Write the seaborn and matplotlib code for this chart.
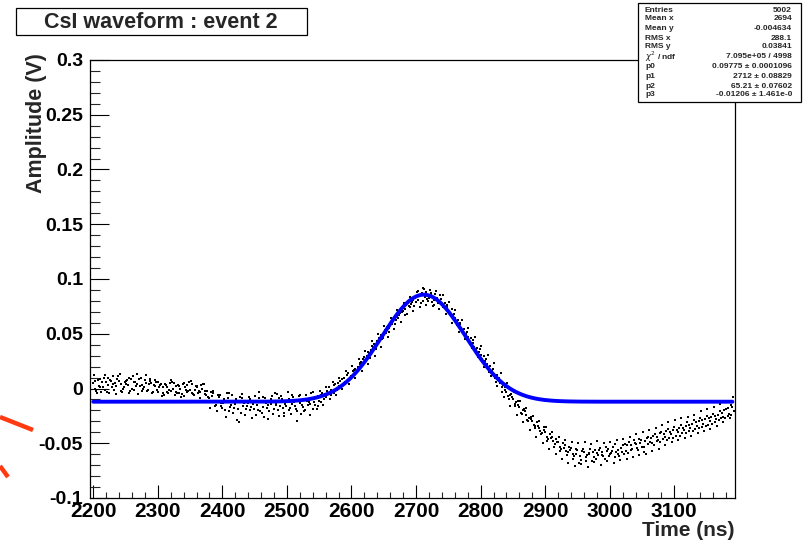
import numpy as np
import pandas as pd
import matplotlib
matplotlib.use("Agg")
import matplotlib.pyplot as plt
from matplotlib.lines import Line2D
from matplotlib.patches import Rectangle
from matplotlib.ticker import MultipleLocator
import seaborn as sns

# ---------------- data ----------------
# samples every 5 ns starting at 2200 ns
amp_a = [
    0.005, -0.002, 0.009, 0.001, 0.006, -0.004, 0.011, 0.002, 0.007, -0.003,
    0.004, 0.010, 0.000, 0.006, -0.005, 0.003, 0.008, -0.001, 0.005, 0.002,
    -0.003, 0.004, -0.006, 0.001, -0.002, 0.005, -0.004, 0.000, -0.007, 0.003,
    -0.001, -0.005, 0.002, -0.003, 0.004, -0.006, -0.009, -0.004, -0.015, -0.008,
    -0.018, -0.011, -0.021, -0.006, -0.014, -0.019, -0.009, -0.024, -0.013, -0.017,
    -0.007, -0.020, -0.012, -0.026, -0.015, -0.010, -0.019, -0.005, -0.016, -0.022,
    -0.011, -0.018, -0.008, -0.021, -0.013, -0.017, -0.006, -0.014, -0.019, -0.009,
    -0.011, -0.004, -0.008, 0.001, -0.003, 0.004, 0.002, 0.009, 0.006, 0.014,
    0.011, 0.018, 0.020, 0.024, 0.029, 0.033, 0.035, 0.041, 0.043, 0.049,
    0.050, 0.056, 0.058, 0.062, 0.066, 0.069, 0.071, 0.076, 0.074, 0.081,
    0.079, 0.085, 0.080, 0.088, 0.083, 0.079, 0.086, 0.080, 0.077, 0.078,
    0.071, 0.073, 0.064, 0.063, 0.055, 0.054, 0.047, 0.046, 0.038, 0.037,
    0.031, 0.030, 0.022, 0.021, 0.013, 0.012, 0.005, 0.003, -0.003, -0.006,
    -0.010, -0.012, -0.017, -0.020, -0.024, -0.027, -0.030, -0.034, -0.036, -0.041,
    -0.040, -0.046, -0.044, -0.051, -0.049, -0.055, -0.052, -0.058, -0.054, -0.062,
    -0.056, -0.065, -0.058, -0.061, -0.055, -0.063, -0.059, -0.054, -0.062, -0.057,
    -0.060, -0.053, -0.058, -0.062, -0.052, -0.057, -0.049, -0.055, -0.051, -0.046,
    -0.053, -0.048, -0.044, -0.050, -0.042, -0.047, -0.040, -0.044, -0.037, -0.042,
    -0.035, -0.040, -0.033, -0.038, -0.031, -0.036, -0.029, -0.034, -0.027, -0.032,
    -0.025, -0.030, -0.023, -0.028, -0.021, -0.026, -0.019, -0.023, -0.017,
]
# samples every 5 ns starting at 2202.5 ns
amp_b = [
    0.000, 0.008, -0.003, 0.012, 0.003, 0.007, -0.001, 0.009, 0.004, 0.001,
    0.008, -0.002, 0.006, 0.013, 0.002, 0.000, 0.005, 0.009, -0.003, 0.006,
    0.001, -0.004, 0.003, -0.001, 0.006, -0.003, 0.002, -0.005, 0.001, -0.002,
    0.004, -0.001, -0.004, 0.003, -0.002, -0.008, -0.003, -0.012, -0.006, -0.016,
    -0.010, -0.004, -0.017, -0.012, -0.029, -0.008, -0.016, -0.011, -0.020, -0.014,
    -0.024, -0.009, -0.017, -0.013, -0.021, -0.007, -0.015, -0.025, -0.010, -0.014,
    -0.020, -0.006, -0.016, -0.011, -0.023, -0.010, -0.015, -0.004, -0.012, -0.016,
    -0.006, -0.010, -0.002, -0.006, 0.003, -0.001, 0.007, 0.004, 0.012, 0.009,
    0.016, 0.014, 0.022, 0.027, 0.026, 0.032, 0.039, 0.038, 0.046, 0.045,
    0.053, 0.052, 0.060, 0.059, 0.064, 0.072, 0.067, 0.078, 0.077, 0.075,
    0.089, 0.078, 0.091, 0.082, 0.087, 0.076, 0.083, 0.085, 0.074, 0.076,
    0.069, 0.067, 0.061, 0.059, 0.052, 0.050, 0.043, 0.042, 0.035, 0.033,
    0.027, 0.025, 0.018, 0.016, 0.010, 0.008, 0.001, -0.001, -0.007, -0.005,
    -0.014, -0.011, -0.022, -0.019, -0.029, -0.026, -0.033, -0.031, -0.039, -0.035,
    -0.044, -0.042, -0.048, -0.046, -0.053, -0.050, -0.057, -0.053, -0.060, -0.055,
    -0.068, -0.057, -0.063, -0.059, -0.066, -0.056, -0.061, -0.058, -0.064, -0.055,
    -0.059, -0.063, -0.056, -0.054, -0.060, -0.052, -0.056, -0.047, -0.054, -0.050,
    -0.058, -0.045, -0.049, -0.043, -0.048, -0.041, -0.046, -0.039, -0.045, -0.038,
    -0.043, -0.036, -0.041, -0.034, -0.039, -0.032, -0.037, -0.030, -0.035, -0.028,
    -0.033, -0.026, -0.031, -0.024, -0.027, -0.020, -0.025, -0.015, -0.021,
]
# samples every 5 ns starting at 2201 ns
amp_c = [
    0.012, -0.004, 0.001, 0.010, -0.003, 0.008, 0.004, -0.005, 0.013, 0.000,
    0.007, -0.004, 0.011, 0.002, 0.009, -0.002, 0.012, 0.004, -0.004, 0.008,
    0.006, -0.007, 0.004, -0.004, 0.008, -0.006, 0.003, -0.008, 0.005, -0.003,
    0.007, -0.006, 0.001, -0.009, 0.004, -0.002, -0.018, -0.002, -0.021, -0.006,
    -0.013, -0.026, -0.004, -0.022, -0.010, -0.031, -0.005, -0.019, -0.008, -0.027,
    -0.012, -0.003, -0.022, -0.009, -0.028, -0.014, -0.004, -0.020, -0.007, -0.025,
    -0.003, -0.023, -0.012, -0.030, -0.006, -0.021, -0.011, -0.024, -0.003, -0.019,
    -0.002, -0.015, 0.001, -0.010, 0.006, -0.006, 0.010, 0.000, 0.016, 0.004,
    0.021, 0.010, 0.027, 0.016, 0.034, 0.022, 0.043, 0.030, 0.050, 0.038,
    0.057, 0.047, 0.064, 0.054, 0.072, 0.061, 0.078, 0.068, 0.084, 0.071,
    0.088, 0.074, 0.092, 0.076, 0.090, 0.075, 0.089, 0.073, 0.085, 0.068,
    0.079, 0.060, 0.072, 0.052, 0.063, 0.045, 0.055, 0.037, 0.047, 0.029,
    0.039, 0.020, 0.031, 0.011, 0.023, 0.002, 0.014, -0.008, 0.005, -0.016,
    -0.003, -0.024, -0.011, -0.031, -0.018, -0.038, -0.025, -0.044, -0.030, -0.050,
    -0.035, -0.055, -0.040, -0.060, -0.044, -0.064, -0.047, -0.068, -0.049, -0.071,
    -0.050, -0.069, -0.049, -0.072, -0.051, -0.067, -0.048, -0.070, -0.050, -0.066,
    -0.049, -0.068, -0.047, -0.065, -0.046, -0.064, -0.044, -0.063, -0.042, -0.061,
    -0.040, -0.060, -0.038, -0.057, -0.036, -0.055, -0.033, -0.052, -0.031, -0.049,
    -0.029, -0.047, -0.027, -0.045, -0.026, -0.043, -0.024, -0.041, -0.021, -0.039,
    -0.019, -0.037, -0.017, -0.034, -0.014, -0.031, -0.011, -0.027, -0.008,
]
# samples every 5 ns starting at 2203.5 ns
amp_d = [
    0.007, 0.002, 0.006, -0.001, 0.010, 0.001, 0.005, 0.011, -0.002, 0.006,
    0.003, 0.009, -0.001, 0.004, 0.010, 0.001, -0.002, 0.007, 0.003, -0.001,
    0.003, 0.001, -0.003, 0.005, 0.000, 0.002, -0.004, 0.004, -0.001, 0.006,
    -0.004, 0.002, -0.002, 0.000, -0.005, -0.011, -0.007, -0.016, -0.011, -0.013,
    -0.020, -0.009, -0.015, -0.018, -0.011, -0.022, -0.013, -0.016, -0.010, -0.019,
    -0.015, -0.021, -0.008, -0.018, -0.012, -0.023, -0.013, -0.009, -0.018, -0.016,
    -0.010, -0.014, -0.019, -0.007, -0.015, -0.020, -0.012, -0.009, -0.015, -0.007,
    -0.012, -0.005, -0.004, -0.001, -0.004, 0.005, 0.001, 0.010, 0.007, 0.011,
    0.017, 0.016, 0.023, 0.022, 0.030, 0.028, 0.037, 0.036, 0.044, 0.046,
    0.051, 0.055, 0.059, 0.063, 0.067, 0.070, 0.073, 0.075, 0.079, 0.083,
    0.081, 0.087, 0.084, 0.080, 0.086, 0.081, 0.078, 0.082, 0.075, 0.074,
    0.066, 0.068, 0.058, 0.060, 0.050, 0.052, 0.041, 0.044, 0.033, 0.036,
    0.024, 0.027, 0.015, 0.018, 0.006, 0.010, -0.003, 0.001, -0.010, -0.008,
    -0.016, -0.015, -0.023, -0.021, -0.030, -0.028, -0.036, -0.034, -0.042, -0.038,
    -0.048, -0.045, -0.053, -0.049, -0.057, -0.054, -0.061, -0.056, -0.064, -0.060,
    -0.062, -0.055, -0.066, -0.060, -0.058, -0.064, -0.056, -0.061, -0.053, -0.062,
    -0.057, -0.051, -0.060, -0.058, -0.051, -0.059, -0.052, -0.050, -0.056, -0.047,
    -0.053, -0.051, -0.045, -0.052, -0.044, -0.049, -0.042, -0.047, -0.040, -0.045,
    -0.038, -0.043, -0.036, -0.041, -0.033, -0.039, -0.031, -0.036, -0.029, -0.034,
    -0.027, -0.032, -0.025, -0.029, -0.022, -0.027, -0.018, -0.024,
]
time_a = 2200.0 + 5.0 * np.arange(len(amp_a))
time_b = 2202.5 + 5.0 * np.arange(len(amp_b))
time_c = 2201.0 + 5.0 * np.arange(len(amp_c))
time_d = 2203.5 + 5.0 * np.arange(len(amp_d))

# Gaussian + constant fit parameters from the stats box
fit_p0 = 0.09775
fit_p1 = 2712.0
fit_p2 = 65.21
fit_p3 = -0.01206
fit_range = (2200, 3190)

x_ticks = [2200, 2300, 2400, 2500, 2600, 2700, 2800, 2900, 3000, 3100]
x_tick_labels = ["2200", "2300", "2400", "2500", "2600", "2700", "2800", "2900", "3000", "3100"]
y_ticks = [-0.1, -0.05, 0.0, 0.05, 0.1, 0.15, 0.2, 0.25, 0.3]
y_tick_labels = ["-0.1", "-0.05", "0", "0.05", "0.1", "0.15", "0.2", "0.25", "0.3"]

stats_labels = ["Entries", "Mean x", "Mean y", "RMS x", "RMS y",
                r"$\chi^{2}$ / ndf", "p0", "p1", "p2", "p3"]
stats_values = ["5002", "2694", "-0.004634", "288.1", "0.03841",
                "7.095e+05 / 4998", "0.09775 \u00b1 0.0001096", "2712 \u00b1 0.08829",
                "65.21 \u00b1 0.07602", "-0.01206 \u00b1 1.461e-0"]

title_text = "CsI waveform : event 2"
x_label = "Time (ns)"
y_label = "Amplitude (V)"

# ---------------- figure ----------------
sns.set_style("ticks")
plt.rcParams["font.family"] = ["Liberation Sans", "DejaVu Sans"]
plt.rcParams["mathtext.fontset"] = "dejavusans"

W, H = 804, 544
fig = plt.figure(figsize=(W / 100, H / 100), dpi=100)
fig.patch.set_facecolor("white")

def fx(px):
    return px / W

def fy(py):
    return 1 - py / H

ax_l, ax_r, ax_t, ax_b = 90, 735, 60, 498
ax = fig.add_axes([fx(ax_l), fy(ax_b), fx(ax_r - ax_l), (ax_b - ax_t) / H])

df = pd.DataFrame({
    "time": np.concatenate([time_a, time_b, time_c, time_d]),
    "amp": np.concatenate([amp_a, amp_b, amp_c, amp_d]),
})
sns.scatterplot(data=df, x="time", y="amp", ax=ax, color="black", s=2.5,
                marker="s", linewidth=0, zorder=2)

xf = np.linspace(fit_range[0], fit_range[1], 600)
yf = fit_p0 * np.exp(-0.5 * ((xf - fit_p1) / fit_p2) ** 2) + fit_p3
sns.lineplot(x=xf, y=yf, ax=ax, color="#0000ff", linewidth=2.8, zorder=3)

ax.set_xlim(2195, 3194)
ax.set_ylim(-0.1, 0.3)
ax.set_xticks(x_ticks)
ax.set_xticklabels(x_tick_labels)
ax.set_yticks(y_ticks)
ax.set_yticklabels(y_tick_labels)
ax.xaxis.set_minor_locator(MultipleLocator(20))
ax.yaxis.set_minor_locator(MultipleLocator(0.01))
ax.tick_params(axis="x", which="major", direction="in", length=9.5, width=0.8,
               pad=3, labelsize=15, colors="black")
ax.tick_params(axis="x", which="minor", direction="in", length=4.5, width=0.8)
ax.tick_params(axis="y", which="major", direction="in", length=13.5, width=0.8,
               pad=5, labelsize=14, colors="black")
ax.tick_params(axis="y", which="minor", direction="in", length=7.5, width=0.8)
for lab in ax.get_xticklabels() + ax.get_yticklabels():
    lab.set_fontweight("bold")
for s in ax.spines.values():
    s.set_visible(True)
    s.set_linewidth(0.9)
    s.set_color("black")
ax.set_xlabel("")
ax.set_ylabel("")

# axis titles (ROOT style, aligned to the axis ends)
fig.text(fx(735), fy(540), x_label, ha="right", va="bottom",
         fontsize=15, fontweight="bold")
fig.text(fx(37), fy(53), y_label, ha="center", va="top", rotation=90,
         fontsize=15.5, fontweight="bold")

# title box
fig.patches.append(Rectangle((fx(16), fy(35)), fx(307 - 16), (35 - 8) / H,
                             transform=fig.transFigure, facecolor="white",
                             edgecolor="black", linewidth=0.9))
fig.text(fx(161), fy(22), title_text, ha="center", va="center",
         fontsize=15.5, fontweight="bold")

# stats box
box_l, box_r, box_t, box_b = 638, 801, 3, 102
fig.patches.append(Rectangle((fx(box_l), fy(box_b)), fx(box_r - box_l), (box_b - box_t) / H,
                             transform=fig.transFigure, facecolor="white",
                             edgecolor="black", linewidth=0.9, zorder=5))
row_y = [10, 19, 28, 38, 47, 56.5, 67, 77, 86, 95]
for lab, val, ry in zip(stats_labels, stats_values, row_y):
    fig.text(fx(645), fy(ry), lab, ha="left", va="center", fontsize=6.0,
             fontweight="bold", zorder=6)
    fig.text(fx(792), fy(ry), val, ha="right", va="center", fontsize=6.0,
             fontweight="bold", zorder=6)

# red stroke marks at the left edge
fig.add_artist(Line2D([fx(0), fx(33)], [fy(417), fy(430)], transform=fig.transFigure,
                      color="#ff3a10", linewidth=3.2, solid_capstyle="butt"))
fig.add_artist(Line2D([fx(0), fx(8)], [fy(466), fy(477)], transform=fig.transFigure,
                      color="#ff3a10", linewidth=3.2, solid_capstyle="butt"))

fig.savefig("out.png", dpi=100, facecolor="white")
